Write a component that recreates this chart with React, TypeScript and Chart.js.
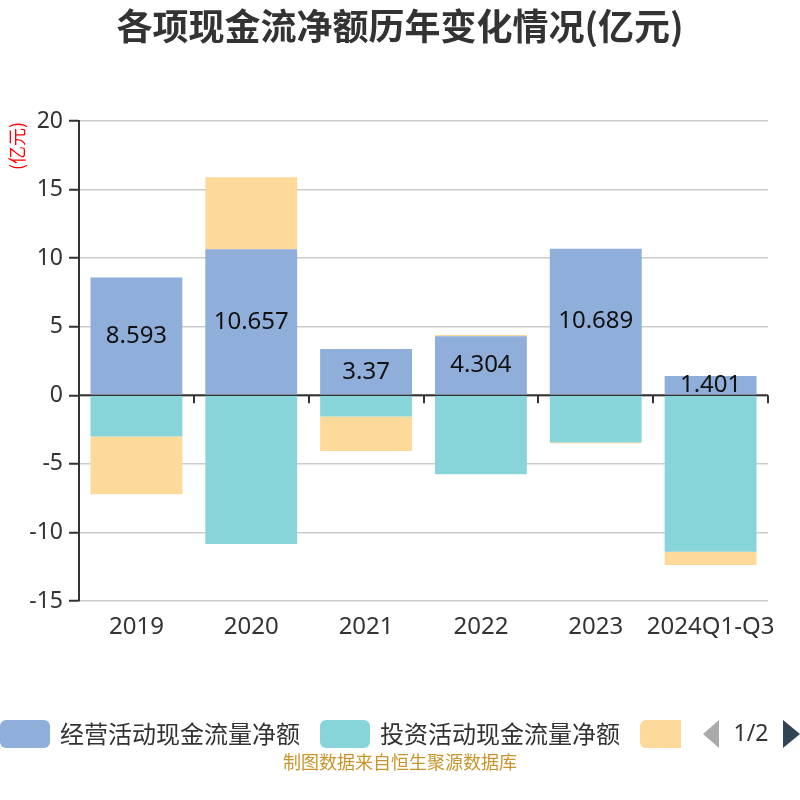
import { useEffect, useRef } from "react";
import Chart from "chart.js/auto";

const categories = ["2019", "2020", "2021", "2022", "2023", "2024Q1-Q3"];
const seriesNames = ["经营活动现金流量净额", "投资活动现金流量净额", "筹资活动现金流量净额"];
const operating = [8.593, 10.657, 3.37, 4.304, 10.689, 1.401];
const investing = [-3.0, -10.84, -1.55, -5.76, -3.45, -11.4];
const financing = [-4.22, 5.24, -2.51, 0.1, -0.07, -0.97];
const colors = ["#8FAEDA", "#87D5D8", "#FEDA9A"];

const LATIN = "'Noto Sans', 'Noto Sans CJK SC', sans-serif";
const CJK = "'Noto Sans CJK SC', 'Noto Sans', sans-serif";

const decor = {
  id: "decor",
  beforeDatasetsDraw(chart: any) {
    const { ctx, chartArea } = chart;
    const y0 = chart.scales.y.getPixelForValue(0);
    const step = (chartArea.right - chartArea.left) / categories.length;
    ctx.save();
    ctx.strokeStyle = "#333";
    ctx.lineWidth = 2;
    ctx.beginPath();
    ctx.moveTo(chartArea.left, y0);
    ctx.lineTo(chartArea.right, y0);
    for (let i = 1; i <= categories.length; i++) {
      const x = Math.round(chartArea.left + step * i);
      ctx.moveTo(x, y0);
      ctx.lineTo(x, y0 + 8);
    }
    ctx.stroke();
    ctx.restore();
  },
  afterDatasetsDraw(chart: any) {
    const { ctx } = chart;
    const meta = chart.getDatasetMeta(0);
    ctx.save();
    ctx.font = `24px ${LATIN}`;
    ctx.fillStyle = "#111";
    ctx.textAlign = "center";
    ctx.textBaseline = "middle";
    meta.data.forEach((bar: any, i: number) => {
      const { x, y, base } = bar.getProps(["x", "y", "base"], true);
      ctx.fillText(String(operating[i]), x, (y + base) / 2);
    });
    ctx.restore();
  },
  afterDraw(chart: any) {
    const { ctx } = chart;
    ctx.save();
    // title
    ctx.fillStyle = "#333";
    ctx.font = `bold 36px ${CJK}`;
    ctx.textAlign = "center";
    ctx.textBaseline = "middle";
    ctx.fillText("各项现金流净额历年变化情况(亿元)", 400, 26);

    // unit
    ctx.save();
    ctx.translate(17, 146);
    ctx.rotate(-Math.PI / 2);
    ctx.fillStyle = "#ff0000";
    ctx.font = `18px ${CJK}`;
    ctx.fillText("(亿元)", 0, 0);
    ctx.restore();

    // legend
    const boxes = [
      { x: 0, w: 50 },
      { x: 320, w: 50 },
      { x: 640, w: 41 },
    ];
    boxes.forEach((b, i) => {
      ctx.fillStyle = colors[i];
      ctx.beginPath();
      ctx.roundRect(b.x, 720, b.w, 28, i === 2 ? [6, 0, 0, 6] : 6);
      ctx.fill();
    });
    ctx.font = `24px ${CJK}`;
    ctx.fillStyle = "#333";
    ctx.textAlign = "left";
    ctx.fillText(seriesNames[0], 60, 734);
    ctx.fillText(seriesNames[1], 380, 734);

    // pager
    ctx.fillStyle = "#aaa";
    ctx.beginPath();
    ctx.moveTo(703, 734);
    ctx.lineTo(719, 720);
    ctx.lineTo(719, 748);
    ctx.closePath();
    ctx.fill();
    ctx.fillStyle = "#333";
    ctx.textAlign = "center";
    ctx.font = `23px ${LATIN}`;
    ctx.fillText("1/2", 751, 734);
    ctx.fillStyle = "#2f4554";
    ctx.beginPath();
    ctx.moveTo(783, 720);
    ctx.lineTo(800, 734);
    ctx.lineTo(783, 748);
    ctx.closePath();
    ctx.fill();

    // footer
    ctx.fillStyle = "#C9952C";
    ctx.font = `18px ${CJK}`;
    ctx.fillText("制图数据来自恒生聚源数据库", 400, 762);
    ctx.restore();
  },
};

export default function App() {
  const ref = useRef<HTMLCanvasElement>(null);
  const chartRef = useRef<Chart | null>(null);

  useEffect(() => {
    if (!ref.current) return;
    chartRef.current?.destroy();
    chartRef.current = new Chart(ref.current, {
      type: "bar",
      data: {
        labels: categories,
        datasets: [operating, investing, financing].map((d, i) => ({
          label: seriesNames[i],
          data: d,
          backgroundColor: colors[i],
          barPercentage: 0.8,
          categoryPercentage: 1,
        })),
      },
      options: {
        animation: false,
        responsive: true,
        maintainAspectRatio: false,
        layout: { padding: { top: 121, right: 32, left: 0, bottom: 0 } },
        plugins: {
          legend: { display: false },
          title: { display: false },
          tooltip: { enabled: false },
        },
        scales: {
          x: {
            stacked: true,
            grid: { display: false, drawTicks: false },
            border: { display: false },
            ticks: {
              color: "#333",
              font: { size: 24, family: LATIN },
              padding: 12,
              maxRotation: 0,
              autoSkip: false,
            },
            afterFit(scale: any) {
              scale.height = 199;
            },
          },
          y: {
            stacked: true,
            min: -15,
            max: 20,
            ticks: {
              stepSize: 5,
              color: "#333",
              font: { size: 23, family: LATIN },
              padding: 6,
            },
            grid: {
              color: "#ccc",
              lineWidth: 1.5,
              tickColor: "#333",
              tickLength: 10,
              tickWidth: 2,
            },
            border: { display: true, color: "#333", width: 2 },
            afterFit(scale: any) {
              scale.width = 79;
            },
          },
        },
      },
      plugins: [decor],
    });
    return () => chartRef.current?.destroy();
  }, []);

  return (
    <div style={{ position: "absolute", left: 0, top: 0, width: 800, height: 800, background: "#fff" }}>
      <canvas ref={ref} />
    </div>
  );
}
